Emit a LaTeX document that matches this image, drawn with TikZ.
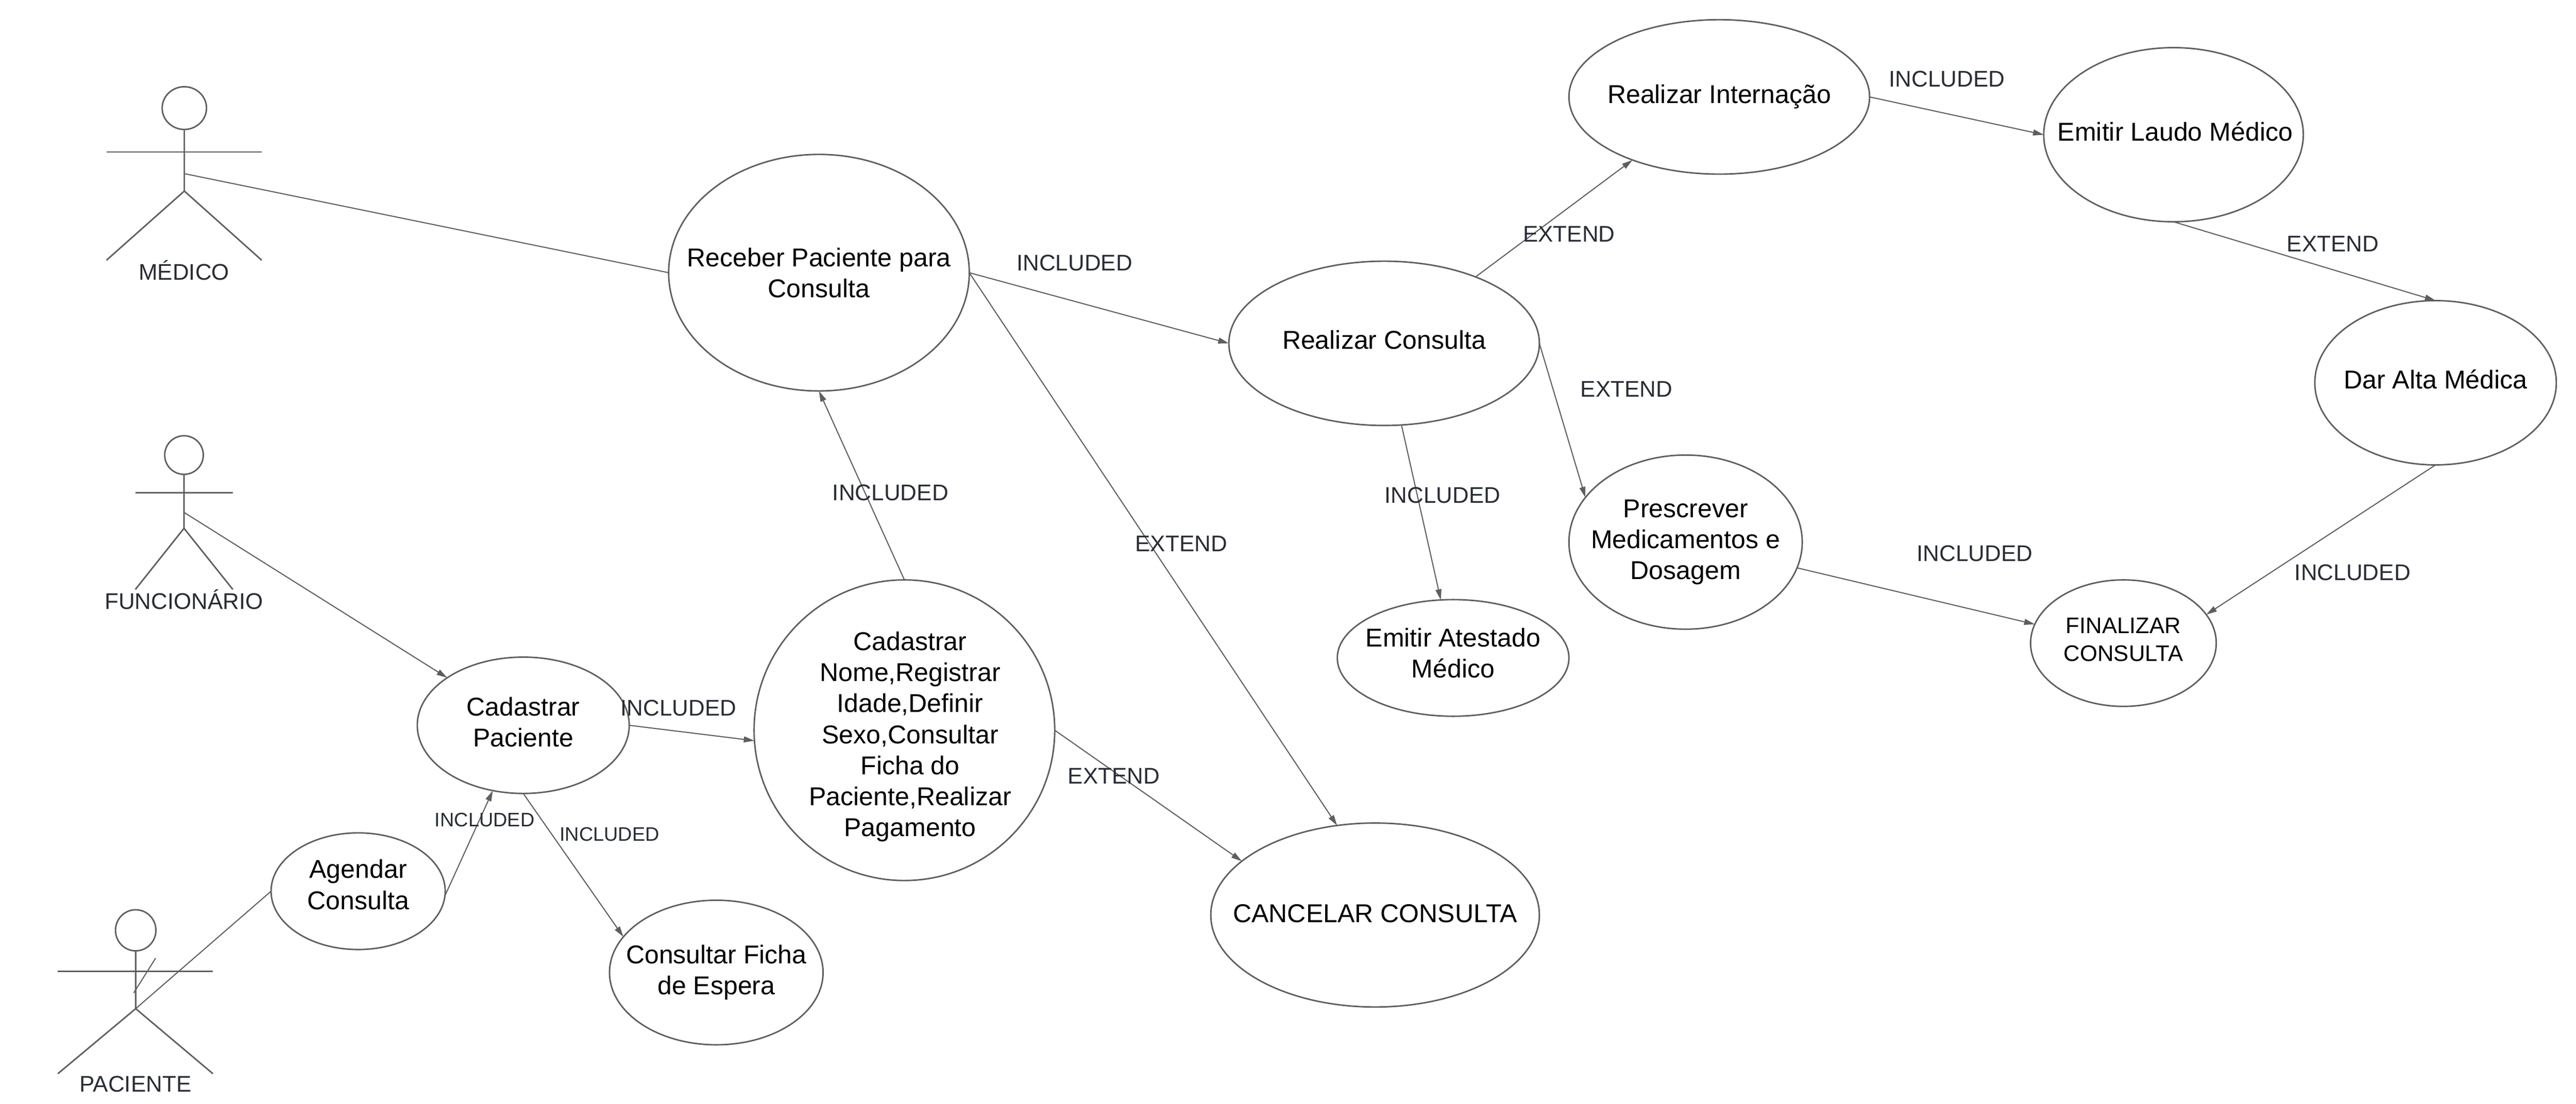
\documentclass[tikz,border=0pt]{standalone}
\usepackage{fontspec}
\setmainfont{Liberation Sans}
\usetikzlibrary{shapes.geometric,arrows.meta}
\definecolor{umlline}{HTML}{5E5E5E}
\definecolor{umltext}{HTML}{282C35}
\tikzset{
  usecase/.style 2 args={ellipse,draw=umlline,line width=.9pt,inner sep=0pt,outer sep=0pt,
    minimum width=#1,minimum height=#2},
  casetext/.style={align=center,inner sep=0pt,font=\fontsize{15.7}{18.9}\selectfont},
  tag/.style={inner sep=0pt,text=umltext,font=\fontsize{13.8}{16}\selectfont},
  smalltag/.style={inner sep=0pt,text=umltext,font=\fontsize{11.9}{14}\selectfont},
  limb/.style={draw=umlline,line width=.9pt},
  link/.style={draw=umlline,line width=.65pt},
  arrowlink/.style={link,-{Triangle[length=6.5pt,width=3.6pt]}}
}

\begin{document}
\begin{tikzpicture}
  [x=1pt,y=-1pt]
  \useasboundingbox (0,0) rectangle (1568,672);

  % use cases
  \node[usecase={183pt}{144pt},label={[casetext]center:Receber Paciente para\\Consulta}] (receber) at (498.5,166) {};
  \node[usecase={189pt}{100pt},label={[casetext,yshift=2pt]center:Realizar Consulta}] (consulta) at (842.5,209) {};
  \node[usecase={183pt}{94pt},label={[casetext]center:Realizar Internação}] (internacao) at (1046.5,59) {};
  \node[usecase={158pt}{106pt},label={[casetext,xshift=1pt,yshift=2pt]center:Emitir Laudo Médico}] (laudo) at (1323,82) {};
  \node[usecase={147pt}{100pt},label={[casetext,yshift=2pt]center:Dar Alta Médica}] (alta) at (1482.5,233) {};
  \node[usecase={142pt}{106pt},label={[casetext]center:Prescrever\\Medicamentos e\\Dosagem}] (prescrever) at (1026,330) {};
  \node[usecase={141pt}{71pt},label={[casetext,yshift=3pt]center:Emitir Atestado\\Médico}] (atestado) at (884.5,400.5) {};
  \node[usecase={113pt}{77pt},label={[casetext,yshift=2pt,font=\fontsize{13.7}{17}\selectfont]center:FINALIZAR\\CONSULTA}] (finalizar) at (1292.5,391.5) {};
  \node[usecase={183pt}{183pt},label={[casetext,xshift=3.5pt,yshift=-4pt]center:Cadastrar\\Nome,Registrar\\Idade,Definir\\Sexo,Consultar\\Ficha do\\Paciente,Realizar\\Pagamento}] (nome) at (550.5,444.5) {};
  \node[usecase={129pt}{83pt},label={[casetext,yshift=2pt]center:Cadastrar\\Paciente}] (cadastrar) at (318.5,441.5) {};
  \node[usecase={106pt}{71pt},label={[casetext,yshift=4pt]center:Agendar\\Consulta}] (agendar) at (218,542.5) {};
  \node[usecase={130pt}{88pt},label={[casetext]center:Consultar Ficha\\de Espera}] (ficha) at (436,592) {};
  \node[usecase={200pt}{112pt},label={[casetext,yshift=1pt]center:CANCELAR CONSULTA}] (cancelar) at (837,557) {};

  % actors
  \node[ellipse,limb,inner sep=0pt,minimum width=27pt,minimum height=26pt] (medicohead) at (112.2,65.8) {};
  \coordinate (medicoarml) at (64.8,92.5);
  \coordinate (medicoarmr) at (159.3,92.5);
  \coordinate (medicohip) at (112.2,116.3);
  \coordinate (medicofootl) at (64.8,158.4);
  \coordinate (medicofootr) at (159.3,158.4);
  \coordinate (medicobody) at (112.2,105.7);
  \draw[limb] (medicohead) -- (medicohip) -- (medicofootl);
  \draw[limb] (medicohip) -- (medicofootr);
  \draw[limb] (medicoarml) -- (medicoarmr);
  \node[tag] (medico) at (112,164.5) {MÉDICO};

  \node[ellipse,limb,inner sep=0pt,minimum width=23.5pt,minimum height=23.5pt] (funchead) at (112,277) {};
  \coordinate (funcarml) at (82.4,300);
  \coordinate (funcarmr) at (141.7,300);
  \coordinate (funchip) at (112,321.6);
  \coordinate (funcfootl) at (82.4,358.8);
  \coordinate (funcfootr) at (141.7,358.8);
  \coordinate (funcbody) at (112,311.9);
  \draw[limb] (funchead) -- (funchip) -- (funcfootl);
  \draw[limb] (funchip) -- (funcfootr);
  \draw[limb] (funcarml) -- (funcarmr);
  \node[tag] (funcionario) at (112,365) {FUNCIONÁRIO};

  \node[ellipse,limb,inner sep=0pt,minimum width=24.6pt,minimum height=25pt] (pacihead) at (82.6,566.3) {};
  \coordinate (paciarml) at (35.2,591.4);
  \coordinate (paciarmr) at (129.6,591.4);
  \coordinate (pacihip) at (82.6,614);
  \coordinate (pacifootl) at (35.2,653.6);
  \coordinate (pacifootr) at (129.6,653.6);
  \coordinate (pacimarka) at (94.7,583.3);
  \coordinate (pacimarkb) at (81.4,604.4);
  \draw[limb] (pacihead) -- (pacihip) -- (pacifootl);
  \draw[limb] (pacihip) -- (pacifootr);
  \draw[limb] (paciarml) -- (paciarmr);
  \draw[link] (pacimarka) -- (pacimarkb);
  \node[tag] (paciente) at (82.5,660) {PACIENTE};

  % connectors
  \draw[link] (medicobody) -- (receber.west);
  \draw[arrowlink] (funcbody) -- (cadastrar.148);
  \draw[link] (pacihip) -- (agendar.west);
  \draw[arrowlink] (agendar.-3) -- (cadastrar.245);
  \draw[arrowlink] (cadastrar.east) -- (nome.184);
  \draw[arrowlink] (cadastrar.south) -- (ficha.159);
  \draw[arrowlink] (nome.north) -- (receber.south);
  \draw[arrowlink] (nome.east) -- (cancelar.158);
  \draw[arrowlink] (receber.east) -- (consulta.west);
  \draw[arrowlink] (receber.east) -- (cancelar.113);
  \draw[arrowlink] (consulta.36) -- (internacao.216);
  \draw[arrowlink] (consulta.east) -- (prescrever.156);
  \draw[arrowlink] (consulta.282) -- (atestado.102);
  \draw[arrowlink] (internacao.east) -- (laudo.west);
  \draw[arrowlink] (laudo.south) -- (alta.north);
  \draw[arrowlink] (alta.south) -- (finalizar.19);
  \draw[arrowlink] (prescrever.-13) -- (finalizar.168);

  % labels
  \node[tag] (l1) at (654,160) {INCLUDED};
  \node[tag] (l2) at (955,142.5) {EXTEND};
  \node[tag] (l3) at (1185,48) {INCLUDED};
  \node[tag] (l4) at (1420,148.5) {EXTEND};
  \node[tag] (l5) at (990,237) {EXTEND};
  \node[tag] (l6) at (878,301.5) {INCLUDED};
  \node[tag] (l7) at (1202,337) {INCLUDED};
  \node[tag] (l8) at (1432,348.5) {INCLUDED};
  \node[tag] (l9) at (542,300) {INCLUDED};
  \node[tag] (l10) at (719,331) {EXTEND};
  \node[tag] (l11) at (678,472.5) {EXTEND};
  \node[tag] (l12) at (413,431) {INCLUDED};
  \node[smalltag] (l13) at (295,499) {INCLUDED};
  \node[smalltag] (l14) at (371,508) {INCLUDED};

\end{tikzpicture}
\end{document}
